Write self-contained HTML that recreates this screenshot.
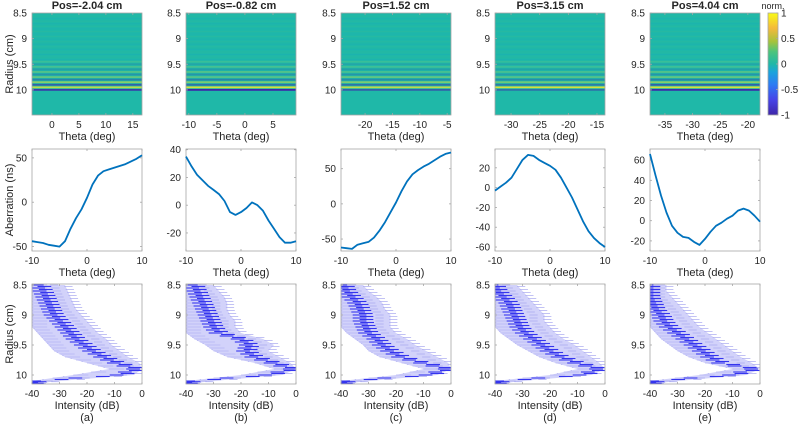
<!DOCTYPE html>
<html><head><meta charset="utf-8"><style>
body{margin:0;background:#fff;}
svg{display:block;font-family:"Liberation Sans",Arial,sans-serif;}
text{fill:#262626;}
</style></head><body>
<svg id="fig" width="800" height="428" viewBox="0 0 800 428">
<defs>
<linearGradient id="parula" x1="0" y1="1" x2="0" y2="0">
<stop offset="0" stop-color="#3e26a8"/><stop offset="0.15" stop-color="#4743e8"/>
<stop offset="0.3" stop-color="#2c7cf3"/><stop offset="0.42" stop-color="#1aa3dc"/>
<stop offset="0.5" stop-color="#1fb8a8"/><stop offset="0.62" stop-color="#4cc47c"/>
<stop offset="0.72" stop-color="#a6c33c"/><stop offset="0.85" stop-color="#f4b93c"/>
<stop offset="1" stop-color="#f9fb15"/></linearGradient>
</defs>
</svg>
<script>
// ---------- data ----------
const titles = ["Pos=-2.04 cm","Pos=-0.82 cm","Pos=1.52 cm","Pos=3.15 cm","Pos=4.04 cm"];
const letters = ["(a)","(b)","(c)","(d)","(e)"];
const thetaRanges = [[-3.7,16.7],[-10.5,9.1],[-24.4,-4.3],[-32.8,-13.6],[-37.7,-17.8]];
const thetaTicks = [[0,5,10,15],[-10,-5,0,5],[-20,-15,-10,-5],[-30,-25,-20,-15],[-35,-30,-25,-20]];
const stripeRadius = [9.45,9.5,9.55,9.6,9.65,9.7,9.75,9.8,9.85,9.9,9.95,10.0];
const stripeAmp = [[0.1,-0.12,0.15,-0.15,0.2,-0.2,0.25,-0.3,0.4,-0.5,0.6,-0.7],
 [0.1,-0.1,0.15,-0.15,0.2,-0.2,0.2,-0.3,0.35,-0.4,0.7,-0.9],
 [0.1,-0.1,0.12,-0.15,0.15,-0.2,0.25,-0.25,0.35,-0.4,0.6,-0.5],
 [0.08,-0.1,0.1,-0.12,0.15,-0.15,0.2,-0.25,0.3,-0.35,0.7,-0.4],
 [0.1,-0.1,0.12,-0.15,0.2,-0.2,0.25,-0.3,0.4,-0.5,0.7,-0.8]];
const abTheta = [-10,-9,-8,-7,-6,-5,-4,-3,-2,-1,0,1,2,3,4,5,6,7,8,9,10];
const aberration = [
 [-44,-45,-46,-48,-49,-50,-44,-30,-18,-8,5,20,30,35,37,39,41,43,46,49,53],
 [35,28,22,18,14,11,8,3,-5,-7,-5,-2,2,0,-4,-11,-17,-23,-27,-27,-26],
 [-62,-63,-64,-58,-56,-54,-48,-38,-26,-12,2,18,32,42,48,53,57,62,67,71,73],
 [-3,1,5,10,19,28,33,32,28,25,22,18,10,0,-10,-22,-34,-44,-51,-56,-60],
 [66,45,25,8,-5,-12,-16,-17,-21,-24,-18,-11,-5,-2,2,5,10,12,10,5,-1]];
const abRanges = [[-55,60],[-33,40.5],[-67,78],[-64,39],[-30,71]];
const abTicks = [[-50,0,50],[-20,0,20,40],[-50,0,50],[-60,-40,-20,0,20],[-20,0,20,40,60]];
const profRadius = [8.5,8.6,8.7,8.8,8.9,9.0,9.1,9.2,9.3,9.4,9.5,9.6,9.7,9.8,9.9,10.0,10.1,10.15];
const profMean = [
 [-37,-36,-35,-34,-33,-32,-30,-28,-26,-24,-21,-18,-14,-9,-2,-8,-38,-40],
 [-37,-36,-35,-34,-33,-32,-31,-30,-28,-20,-17,-18,-15,-8,-1,-10,-38,-40],
 [-39,-38,-36,-34,-33,-32,-32,-31,-30,-27,-25,-22,-18,-10,-1,-8,-38,-40],
 [-40,-39,-37,-35,-34,-33,-32,-31,-29,-26,-23,-20,-16,-10,-2,-8,-38,-40],
 [-40,-40,-40,-39,-38,-36,-35,-33,-30,-27,-24,-21,-18,-14,-2,-10,-38,-40]];
const profLow = [
 [-40,-40,-40,-40,-40,-40,-40,-40,-38,-36,-34,-32,-28,-20,-12,-25,-40,-40],
 [-40,-40,-40,-40,-40,-40,-40,-40,-40,-37,-33,-30,-25,-15,-8,-20,-40,-40],
 [-40,-40,-40,-40,-40,-40,-40,-40,-38,-35,-32,-30,-26,-18,-10,-20,-40,-40],
 [-40,-40,-40,-40,-40,-40,-40,-40,-38,-35,-32,-28,-24,-18,-10,-20,-40,-40],
 [-40,-40,-40,-40,-40,-40,-40,-40,-38,-36,-33,-30,-26,-20,-10,-22,-40,-40]];
const profHigh = [
 [-28,-27,-26,-25,-24,-22,-20,-18,-16,-13,-11,-8,-5,-1,0,-3,-30,-40],
 [-30,-28,-26,-25,-25,-24,-22,-22,-20,-12,-8,-10,-6,-2,0,-5,-30,-40],
 [-32,-30,-27,-25,-24,-22,-22,-22,-20,-16,-13,-9,-5,-1,0,-5,-30,-40],
 [-32,-30,-28,-26,-24,-22,-22,-20,-18,-15,-11,-8,-5,-2,0,-5,-30,-40],
 [-34,-34,-32,-30,-28,-26,-24,-22,-19,-16,-13,-10,-7,-3,0,-5,-30,-40]];
const dbTicks = [-40,-30,-20,-10,0];
const radTicks = [8.5,9,9.5,10];
const cbTicks = [1,0.5,0,-0.5,-1];

// ---------- layout ----------
const NS="http://www.w3.org/2000/svg";
const svg=document.getElementById('fig');
const defs=svg.querySelector('defs');
const colX=[32,186,341,495,650], W=110;
function el(tag,attrs,parent,txt){const e=document.createElementNS(NS,tag);for(const k in attrs)e.setAttribute(k,attrs[k]);if(txt!==undefined)e.textContent=txt;(parent||svg).appendChild(e);return e;}
function lin(d0,d1,r0,r1){return v=>r0+(v-d0)/(d1-d0)*(r1-r0);}
function box(g,x,y,w,h){el('rect',{x:x,y:y,width:w,height:h,fill:'none',stroke:'#a6a6a6','stroke-width':0.8},g);}
function tick(g,x1,y1,x2,y2){el('line',{x1:x1,y1:y1,x2:x2,y2:y2,stroke:'#a6a6a6','stroke-width':0.8},g);}
function txt(g,x,y,s,anchor,size,weight){return el('text',{x:x,y:y,'text-anchor':anchor||'middle','font-size':size||10,'font-weight':weight||'normal'},g,s);}
function mix(c1,c2,f){return 'rgb('+c1.map((v,i)=>Math.round(v+(c2[i]-v)*f)).join(',')+')';}
const TEAL=[31,184,168], YEL=[249,230,40], BLU=[62,38,168];

const R1=[13,115], R2=[149,251], R3=[284,384];
for(let c=0;c<5;c++){
  const x0=colX[c], x1=x0+W;
  // ---- row 1: image ----
  let g=el('g',{});
  
  
  const tx=lin(thetaRanges[c][0],thetaRanges[c][1],x0,x1);
  const ry=lin(8.5,10.49,R1[0],R1[1]);
  el('rect',{x:x0,y:R1[0],width:W,height:R1[1]-R1[0],fill:'#1fb8a8'},g);
  for(let r=8.55;r<9.45;r+=0.05){
    el('rect',{x:x0,y:ry(r),width:W,height:1,fill:(Math.round(r*20)%2)?'#45c08a':'#1aa2c8',opacity:0.2},g);
  }
  for(let i=0;i<stripeRadius.length;i++){
    const a=stripeAmp[c][i];
    const col=a>0?mix(TEAL,YEL,Math.min(1,a*1.2)):mix(TEAL,BLU,Math.min(1,-a*1.2));
    el('rect',{x:x0,y:ry(stripeRadius[i])-0.9,width:W,height:1.8,fill:col},g);
  }
  box(g,x0,R1[0],W,R1[1]-R1[0]);
  let t=txt(g,x0+W/2,9,titles[c],'middle',11,'bold');
   
  thetaTicks[c].forEach(v=>{const X=tx(v);tick(g,X,R1[1],X,R1[1]-2);tick(g,X,R1[0],X,R1[0]+2);txt(g,X,R1[1]+13,String(v));});
  txt(g,x0+W/2,R1[1]+25,'Theta (deg)','middle',11);
  radTicks.forEach(v=>{const Y=ry(v);tick(g,x0,Y,x0+2,Y);txt(g,x0-5,Y+3.5,String(v),'end');});

  // ---- row 2: aberration ----
  g=el('g',{});
  
  
  const ax=lin(-10,10,x0,x1), ay=lin(abRanges[c][0],abRanges[c][1],R2[1],R2[0]);
  box(g,x0,R2[0],W,R2[1]-R2[0]);
  [-10,0,10].forEach(v=>{const X=ax(v);tick(g,X,R2[1],X,R2[1]-2);tick(g,X,R2[0],X,R2[0]+2);txt(g,X,R2[1]+13,String(v));});
  abTicks[c].forEach(v=>{const Y=ay(v);tick(g,x0,Y,x0+2,Y);tick(g,x1,Y,x1-2,Y);txt(g,x0-5,Y+3.5,String(v),'end');});
  txt(g,x0+W/2,R2[1]+25,'Theta (deg)','middle',11);
  const pts=abTheta.map((v,i)=>ax(v).toFixed(1)+','+ay(aberration[c][i]).toFixed(1)).join(' ');
  const pl=el('polyline',{points:pts,fill:'none',stroke:'#0072bd','stroke-width':1.8,'stroke-linejoin':'round'},g);
  
  

  // ---- row 3: intensity ----
  g=el('g',{});
  
  
  const cp=el('clipPath',{id:'clip3_'+c},defs);
  el('rect',{x:x0,y:R3[0],width:W,height:R3[1]-R3[0]},cp);
  const inner=el('g',{'clip-path':'url(#clip3_'+c+')'},g);
  const ix=lin(-40,0,x0,x1), iy=lin(8.5,10.15,R3[0]+1,R3[1]);
  const n=profRadius.length;
  let poly=[];
  for(let i=0;i<n;i++)poly.push(ix(profHigh[c][i]).toFixed(1)+','+iy(profRadius[i]).toFixed(1));
  for(let i=n-1;i>=0;i--)poly.push(ix(profLow[c][i]).toFixed(1)+','+iy(profRadius[i]).toFixed(1));
  const band=el('polygon',{points:poly.join(' '),fill:'#d2d2fa',stroke:'none'},inner);
  
  
  for(let i=0;i<n-1;i++){
    for(let k=0;k<4;k++){
      const r=profRadius[i]+k*(profRadius[i+1]-profRadius[i])/4;
      const f=k/4;
      const hi=profHigh[c][i]+(profHigh[c][i+1]-profHigh[c][i])*f;
      const lo=profLow[c][i]+(profLow[c][i+1]-profLow[c][i])*f;
      const m=profMean[c][i]+(profMean[c][i+1]-profMean[c][i])*f;
      const off=(k%2?2.5:-2.5);
      el('line',{x1:ix(Math.min(0,hi-3+off)),y1:iy(r),x2:ix(Math.min(0,hi+off)),y2:iy(r),stroke:'#a8a8f0','stroke-width':0.7},inner);
      el('line',{x1:ix(Math.max(-40,lo)),y1:iy(r),x2:ix(Math.max(-40,lo+3-off)),y2:iy(r),stroke:'#b4b4f2','stroke-width':0.7},inner);
      el('line',{x1:ix(Math.max(-40,m-2.5+off/2)),y1:iy(r),x2:ix(Math.min(0,m+2.5+off/2)),y2:iy(r),stroke:'#3535ee','stroke-width':1.1},inner);
    }
  }
  box(g,x0,R3[0],W,R3[1]-R3[0]);
  dbTicks.forEach(v=>{const X=ix(v);tick(g,X,R3[1],X,R3[1]-2);tick(g,X,R3[0],X,R3[0]+2);txt(g,X,R3[1]+13,String(v));});
  radTicks.forEach(v=>{const Y=iy(v);tick(g,x0,Y,x0+2,Y);txt(g,x0-5,Y+3.5,String(v),'end');});
  txt(g,x0+W/2,R3[1]+25,'Intensity (dB)','middle',11);
  txt(g,x0+W/2,R3[1]+37,letters[c],'middle',11);
}
// y-axis titles
[['Radius (cm)',64,'radius-axis-title-top'],['Aberration (ns)',200,'aberration-axis-title'],['Radius (cm)',334,'radius-axis-title-bottom']].forEach(a=>{
  const t=el('text',{x:0,y:0,'text-anchor':'middle','font-size':11,transform:'translate(13,'+a[1]+') rotate(-90)'},svg,a[0]);
  
  
});
// colorbar
const cb=el('g',{});


el('rect',{x:768,y:13,width:10,height:102,fill:'url(#parula)',stroke:'#a6a6a6','stroke-width':0.8},cb);
const cy=lin(1,-1,13,115);
cbTicks.forEach(v=>{const Y=cy(v);tick(cb,778,Y,776,Y);txt(cb,781,Y+3.5,String(v),'start');});
txt(cb,773,9,'norm.','middle',9);
</script>
</body></html>
